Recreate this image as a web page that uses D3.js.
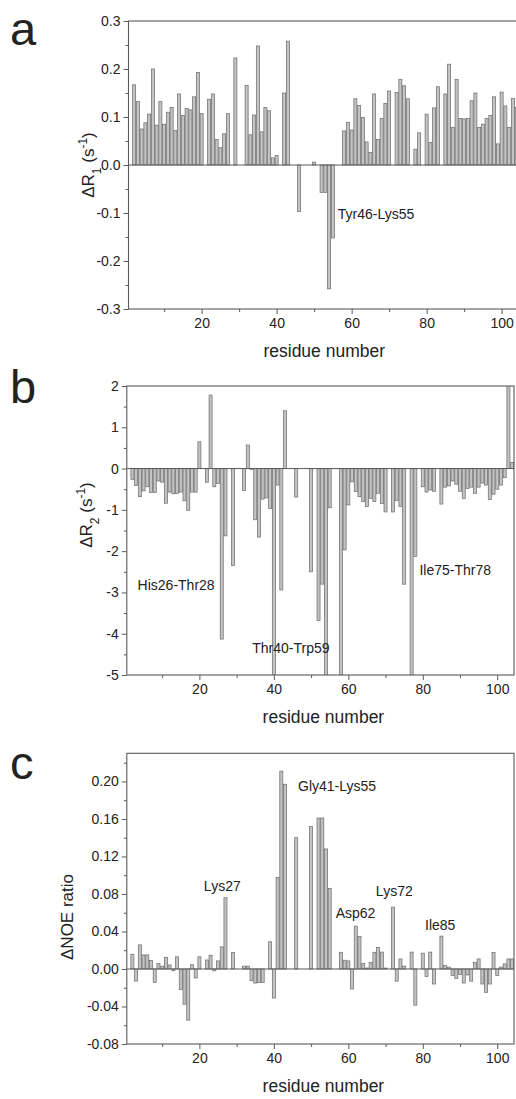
<!DOCTYPE html>
<html><head><meta charset="utf-8">
<script src="https://cdn.jsdelivr.net/npm/d3@7"></script>
<style>
body{margin:0;background:#fff}
svg text{font-family:"Liberation Sans",Arial,sans-serif;fill:#222}
</style>
</head><body>
<svg id="chart" width="516" height="1099"></svg>
<script>
// ---------- DATA ----------
// Panel a : ΔR1 (s^-1)
const residuesA = [2,3,4,5,6,7,8,9,10,11,12,13,14,15,16,17,18,19,20,22,23,24,25,26,27,29,32,33,34,35,36,37,38,39,40,42,43,46,50,52,53,54,55,58,59,60,61,62,63,64,65,66,67,68,69,70,72,73,74,75,77,78,80,81,82,83,85,86,87,88,89,90,91,92,93,94,95,96,97,98,99,100,101,102,103,104];
const deltaR1 = [0.167,0.132,0.075,0.088,0.106,0.200,0.083,0.132,0.085,0.110,0.120,0.072,0.148,0.103,0.118,0.115,0.142,0.193,0.107,0.137,0.148,0.053,0.036,0.065,0.107,0.223,0.166,0.063,0.104,0.248,0.069,0.120,0.113,0.015,0.020,0.150,0.258,-0.097,0.006,-0.057,-0.057,-0.258,-0.152,0.071,0.089,0.073,0.138,0.124,0.099,0.048,0.026,0.148,0.053,0.097,0.128,0.154,0.151,0.178,0.165,0.138,0.033,0.067,0.106,0.047,0.119,0.163,0.148,0.210,0.078,0.178,0.097,0.096,0.097,0.134,0.150,0.078,0.085,0.097,0.103,0.142,0.044,0.152,0.123,0.078,0.139,0.120];

// Panel b : ΔR2 (s^-1)  (values beyond the axis range are clipped by the frame)
const residuesB = [2,3,4,5,6,7,8,9,10,11,12,13,14,15,16,17,18,19,20,22,23,24,25,26,27,29,32,33,34,35,36,37,38,39,40,41,42,43,46,50,52,53,54,55,58,59,60,61,62,63,64,65,66,67,68,69,70,72,73,74,75,77,78,80,81,82,83,85,86,87,88,89,90,91,92,93,94,95,96,97,98,99,100,101,102,103,104];
const deltaR2 = [-0.26,-0.41,-0.68,-0.54,-0.44,-0.58,-0.58,-0.30,-0.33,-0.84,-0.57,-0.61,-0.60,-0.57,-0.78,-1.01,-0.57,-0.57,0.65,-0.33,1.78,-0.44,-0.36,-4.13,-1.63,-2.35,-0.53,0.57,-0.02,-1.24,-1.66,-0.74,-0.71,-0.97,-5.6,-0.40,-2.94,1.40,-0.69,-2.50,-3.68,-2.80,-5.6,-0.95,-5.6,-1.97,-0.88,-0.32,-0.56,-0.68,-0.80,-0.92,-0.72,-0.80,-0.60,-0.85,-1.05,-1.05,-0.77,-0.92,-2.80,-5.6,-2.13,-0.44,-0.57,-0.52,-0.55,-0.86,-0.45,-0.42,-0.30,-0.38,-0.55,-0.72,-0.48,-0.45,-0.60,-0.45,-0.35,-0.40,-0.75,-0.62,-0.50,-0.40,-0.22,2.3,0.15];

// Panel c : ΔNOE ratio
const residuesC = [2,3,4,5,6,7,8,9,10,11,12,13,14,15,16,17,18,19,20,22,23,24,25,26,27,29,32,33,34,35,36,37,39,40,41,42,43,46,50,52,53,54,55,58,59,60,61,62,63,64,65,66,67,68,69,70,72,73,74,75,77,78,80,81,82,83,85,86,87,88,89,90,91,92,93,94,95,96,97,98,99,100,101,102,103,104];
const deltaNOE = [0.0157,-0.0129,0.0257,0.015,0.015,0.009,-0.0143,0.0057,0.003,0.0125,0.0043,-0.0018,0.013,-0.022,-0.0375,-0.0546,0.0046,-0.0096,0.013,0.0096,0.0146,-0.002,0.0086,0.0236,0.076,0.0175,0.003,0.003,-0.0125,-0.015,-0.0146,-0.0143,0.029,-0.031,0.0975,0.211,0.197,0.140,0.152,0.161,0.161,0.128,0.086,0.0178,0.0093,0.0086,-0.0214,0.0457,0.0346,0.006,0.001,0.007,0.0178,0.023,0.018,0.001,0.066,-0.013,0.0107,0.003,0.018,-0.0386,0.0168,-0.0079,0.018,-0.016,0.035,0.0036,0.002,-0.007,-0.010,-0.006,-0.015,-0.0064,-0.013,0.0068,0.0107,-0.016,-0.025,-0.016,0.0175,-0.007,0.002,0.0054,0.0107,0.0107];

// Tick values
const xMajorTicks = [20,40,60,80,100];
const xMinorTicks = [10,30,50,70,90];
const yTicksA = [-0.3,-0.2,-0.1,0.0,0.1,0.2,0.3];
const yMinorA = [-0.25,-0.15,-0.05,0.05,0.15,0.25];
const yTicksB = [-5,-4,-3,-2,-1,0,1,2];
const yMinorB = [-4.5,-3.5,-2.5,-1.5,-0.5,0.5,1.5];
const yTicksC = [-0.08,-0.04,0.00,0.04,0.08,0.12,0.16,0.20];
const yMinorC = [-0.06,-0.02,0.02,0.06,0.10,0.14,0.18,0.22];

// Annotation texts
const notesA = ["Tyr46-Lys55"];
const notesB = ["His26-Thr28","Thr40-Trp59","Ile75-Thr78"];
const notesC = ["Lys27","Gly41-Lys55","Asp62","Lys72","Ile85"];

// ---------- DRAWING ----------
const svg = d3.select("#chart");
const defs = svg.append("defs");
const AXIS = "#5a5a5a";
const fmtDash = f => v => f(v).replace("\u2212","-");

function panel(o){
  const x = d3.scaleLinear().domain([0.5,104.5]).range([o.left,o.right]);
  const y = d3.scaleLinear().domain(o.yDomain).range([o.bottom,o.top]);
  const g = svg.append("g");
  defs.append("clipPath").attr("id","clip"+o.id).append("rect")
    .attr("x",o.left).attr("y",o.top).attr("width",o.right-o.left).attr("height",o.bottom-o.top);

  const bw = x(1)-x(0);
  g.append("g").attr("clip-path",`url(#clip${o.id})`)
    .selectAll("rect").data(d3.zip(o.res,o.val)).join("rect")
    .attr("x",d=>x(d[0])-bw/2+0.35)
    .attr("width",bw-0.7)
    .attr("y",d=>y(Math.max(0,d[1])))
    .attr("height",d=>Math.abs(y(d[1])-y(0)))
    .attr("fill","#c3c3c3").attr("stroke","#707070").attr("stroke-width",0.75);

  g.append("line").attr("x1",o.left).attr("x2",o.right).attr("y1",y(0)).attr("y2",y(0))
    .attr("stroke",AXIS).attr("stroke-width",1);

  g.append("rect").attr("x",o.left).attr("y",o.top).attr("width",o.right-o.left).attr("height",o.bottom-o.top)
    .attr("fill","none").attr("stroke",AXIS).attr("stroke-width",1.1);

  const ya = g.append("g").attr("transform",`translate(${o.left},0)`)
    .call(d3.axisLeft(y).tickValues(o.yTicks).tickSize(5).tickPadding(3).tickFormat(o.fmt));
  const ym = g.append("g").attr("transform",`translate(${o.left},0)`)
    .call(d3.axisLeft(y).tickValues(o.yMinor).tickSize(3).tickFormat(""));
  const xa = g.append("g").attr("transform",`translate(0,${o.bottom})`)
    .call(d3.axisBottom(x).tickValues(xMajorTicks).tickSize(5).tickPadding(4).tickFormat(d3.format("d")));
  const xm = g.append("g").attr("transform",`translate(0,${o.bottom})`)
    .call(d3.axisBottom(x).tickValues(xMinorTicks).tickSize(3).tickFormat(""));
  [ya,ym,xa,xm].forEach(a=>{
    a.select(".domain").remove();
    a.selectAll("line").attr("stroke",AXIS);
    a.selectAll("text").attr("font-size",14).attr("fill","#333")
      .style("font-family",'"Liberation Sans",Arial,sans-serif');
  });

  g.append("text").attr("x",(o.left+Math.min(o.right,514))/2+3).attr("y",o.bottom+48)
    .attr("text-anchor","middle").attr("font-size",17.5).text("residue number");

  g.append("text").attr("x",10).attr("y",o.letterY).attr("font-size",47).attr("fill","#111").text(o.letter);

  o.notes.forEach((t,i)=>{
    g.append("text").attr("x",x(o.notePos[i][0])).attr("y",y(o.notePos[i][1]))
      .attr("dominant-baseline","middle").attr("font-size",14).text(t);
  });
  return {g,x,y};
}

panel({id:"a",letter:"a",letterY:45,left:128.5,right:518.5,top:21,bottom:309,
  yDomain:[-0.3,0.3],res:residuesA,val:deltaR1,yTicks:yTicksA,yMinor:yMinorA,
  fmt:fmtDash(d3.format(".1f")),notes:notesA,notePos:[[56.3,-0.104]]});
panel({id:"b",letter:"b",letterY:403,left:126.8,right:514,top:386,bottom:675,
  yDomain:[-5,2],res:residuesB,val:deltaR2,yTicks:yTicksB,yMinor:yMinorB,
  fmt:fmtDash(d3.format("d")),notes:notesB,notePos:[[3.4,-2.84],[34.2,-4.37],[79.1,-2.48]]});
panel({id:"c",letter:"c",letterY:779,left:126.8,right:514,top:753.3,bottom:1044,
  yDomain:[-0.08,0.23],res:residuesC,val:deltaNOE,yTicks:yTicksC,yMinor:yMinorC,
  fmt:fmtDash(d3.format(".2f")),notes:notesC,
  notePos:[[21.2,0.0866],[46.5,0.194],[56.6,0.058],[67.4,0.082],[80.6,0.0456]]});

function rTitle(cx,cy,parts){
  const t = svg.append("text").attr("transform",`translate(${cx},${cy}) rotate(-90)`)
    .attr("text-anchor","middle").attr("font-size",17);
  parts.forEach(p=>{
    const s = t.append("tspan").text(p[0]);
    if(p[1]==="sub") s.attr("baseline-shift","sub").attr("font-size",12);
    if(p[1]==="sup") s.attr("baseline-shift","super").attr("font-size",12);
  });
}
rTitle(94,165,[["\u0394R"],["1","sub"],[" (s"],["-1","sup"],[")"]]);
rTitle(92,515,[["\u0394R"],["2","sub"],[" (s"],["-1","sup"],[")"]]);
rTitle(73,917,[["\u0394NOE ratio"]]);
</script>
</body></html>
